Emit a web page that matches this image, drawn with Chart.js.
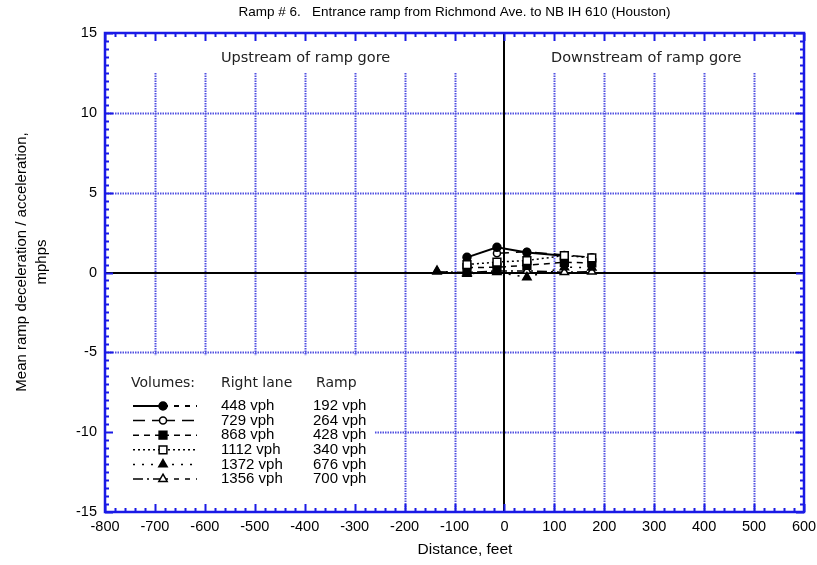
<!DOCTYPE html>
<html>
<head>
<meta charset="utf-8">
<script src="https://cdn.jsdelivr.net/npm/chart.js@4.4.0/dist/chart.umd.min.js"></script>
<style>
  html, body { margin: 0; padding: 0; background: #fff; }
  #wrap { width: 817px; height: 565px; position: relative; }
</style>
</head>
<body>
<div id="wrap"><canvas id="c" width="817" height="565"></canvas></div>
<script>
// ---- Data ----
const titleText = 'Ramp # 6.   Entrance ramp from Richmond Ave. to NB IH 610 (Houston)';
const xTitle = 'Distance, feet';
const yTitle = ['Mean ramp deceleration / acceleration,', 'mphps'];
const xTicks = [-800, -700, -600, -500, -400, -300, -200, -100, 0, 100, 200, 300, 400, 500, 600];
const yTicks = [-15, -10, -5, 0, 5, 10, 15];

const rightLane = ['448 vph', '729 vph', '868 vph', '1112 vph', '1372 vph', '1356 vph'];
const rampVol   = ['192 vph', '264 vph', '428 vph', '340 vph', '676 vph', '700 vph'];

const s1x = [-75, -15, 45, 120];
const s1y = [0.95, 1.58, 1.25, 1.05];
const s2x = [-15, 45, 120, 175];
const s2y = [1.2, 1.3, 1.1, 0.95];
const s3x = [-75, -15, 45, 120, 175];
const s3y = [0.3, 0.33, 0.45, 0.64, 0.6];
const s4x = [-75, -15, 45, 120, 175];
const s4y = [0.5, 0.65, 0.75, 1.06, 0.92];
const s5x = [-135, -75, -15, 45, 120, 175];
const s5y = [0.1, -0.08, 0.02, -0.3, 0.33, 0.3];
const s6x = [-135, -75, -15, 45, 120, 175];
const s6y = [0.05, 0.0, 0.1, 0.1, 0.02, 0.05];

// ---- Styles ----
const styles = [
  { dash: [], right: [5, 6], style: 'circle', fill: '#000', r: 4, order: 0 },
  { dash: [12, 7], right: [12, 7], style: 'circle', fill: '#fff', r: 3.5, order: 0 },
  { dash: [6, 5], right: [6, 5], style: 'rect', fill: '#000', r: 5.5, order: 0 },
  { dash: [2, 3], right: [2, 3], style: 'rect', fill: '#fff', r: 5.5, order: -1 },
  { dash: [2, 7], right: [2, 7], style: 'triangle', fill: '#000', r: 4.8, order: 0 },
  { dash: [10, 4, 2, 4], right: [5, 6], style: 'triangle', fill: '#fff', r: 4.8, order: 1 }
];
const seriesX = [s1x, s2x, s3x, s4x, s5x, s6x];
const seriesY = [s1y, s2y, s3y, s4y, s5y, s6y];

const datasets = seriesX.map((xs, i) => ({
  label: rightLane[i] + ' / ' + rampVol[i],
  data: xs.map((x, j) => ({ x: x, y: seriesY[i][j] })),
  showLine: true,
  order: styles[i].order,
  borderColor: '#000',
  borderWidth: i === 0 ? 2 : 1.5,
  borderDash: styles[i].dash,
  pointStyle: styles[i].style,
  pointRadius: styles[i].r,
  pointBackgroundColor: styles[i].fill,
  pointBorderColor: '#000',
  pointBorderWidth: 1.5,
  fill: false,
  tension: 0
}));

const BLUE = '#1a1ae6';
const GRID = 'rgb(80,80,225)';
const SANS = '"Liberation Sans", Arial, sans-serif';
const GEO = '"DejaVu Sans", sans-serif';

function drawMarker(ctx, style, x, y, r, fill) {
  ctx.save();
  ctx.setLineDash([]);
  ctx.fillStyle = fill;
  ctx.strokeStyle = '#000';
  ctx.lineWidth = 1.5;
  ctx.beginPath();
  if (style === 'circle') {
    ctx.arc(x, y, r, 0, Math.PI * 2);
  } else if (style === 'rect') {
    const s = r / Math.SQRT2;
    ctx.rect(x - s, y - s, 2 * s, 2 * s);
  } else {
    ctx.moveTo(x, y - r);
    ctx.lineTo(x + r * 0.866, y + r * 0.5);
    ctx.lineTo(x - r * 0.866, y + r * 0.5);
    ctx.closePath();
  }
  ctx.fill();
  ctx.stroke();
  ctx.restore();
}

const decor = {
  id: 'decor',
  beforeDatasetsDraw(chart) {
    const ctx = chart.ctx, ca = chart.chartArea;
    const X = chart.scales.x, Y = chart.scales.y;
    ctx.save();
    // dotted blue grid
    ctx.strokeStyle = GRID;
    ctx.lineWidth = 2;
    ctx.setLineDash([1.5, 1]);
    xTicks.forEach(v => {
      if (v === 0 || v === X.min || v === X.max) return;
      const px = Math.round(X.getPixelForValue(v)) + 0.5;
      ctx.beginPath(); ctx.moveTo(px, ca.top); ctx.lineTo(px, ca.bottom); ctx.stroke();
    });
    yTicks.forEach(v => {
      if (v === 0 || v === Y.min || v === Y.max) return;
      const py = Math.round(Y.getPixelForValue(v)) + 0.5;
      ctx.beginPath(); ctx.moveTo(ca.left, py); ctx.lineTo(ca.right, py); ctx.stroke();
    });
    ctx.setLineDash([]);
    // white label boxes
    ctx.fillStyle = '#fff';
    ctx.fillRect(ca.left, ca.top, ca.width, 40);
    const legTop = Y.getPixelForValue(-5) + 3;
    ctx.fillRect(ca.left, legTop, 270, ca.bottom - legTop);
    // zero axes
    ctx.strokeStyle = '#000';
    ctx.lineWidth = 2;
    const x0 = Math.round(X.getPixelForValue(0));
    const y0 = Math.round(Y.getPixelForValue(0));
    ctx.beginPath(); ctx.moveTo(x0, ca.top); ctx.lineTo(x0, ca.bottom); ctx.stroke();
    ctx.beginPath(); ctx.moveTo(ca.left, y0); ctx.lineTo(ca.right, y0); ctx.stroke();
    ctx.restore();
  },
  afterDatasetsDraw(chart) {
    const ctx = chart.ctx, ca = chart.chartArea;
    const X = chart.scales.x, Y = chart.scales.y;
    ctx.save();
    // frame
    ctx.strokeStyle = BLUE;
    ctx.lineWidth = 2.5;
    ctx.strokeRect(ca.left, ca.top, ca.width, ca.height);
    // inside ticks
    ctx.lineWidth = 2;
    for (let v = X.min; v <= X.max; v += 20) {
      const px = Math.round(X.getPixelForValue(v)) + 0.5;
      const len = (v % 100 === 0) ? 8 : 4;
      ctx.beginPath();
      ctx.moveTo(px, ca.bottom); ctx.lineTo(px, ca.bottom - len);
      ctx.moveTo(px, ca.top); ctx.lineTo(px, ca.top + len);
      ctx.stroke();
    }
    for (let v = Y.min; v <= Y.max + 1e-9; v += 0.5) {
      const py = Math.round(Y.getPixelForValue(v)) + 0.5;
      const len = (Math.abs(v % 5) < 1e-9) ? 8 : 4;
      ctx.beginPath();
      ctx.moveTo(ca.left, py); ctx.lineTo(ca.left + len, py);
      ctx.moveTo(ca.right, py); ctx.lineTo(ca.right - len, py);
      ctx.stroke();
    }
    // title
    ctx.fillStyle = '#000';
    ctx.textBaseline = 'middle';
    ctx.textAlign = 'center';
    ctx.font = '13.5px ' + SANS;
    ctx.fillText(titleText, (ca.left + ca.right) / 2, 12);
    // axis titles
    ctx.font = '15.5px ' + SANS;
    ctx.fillText(xTitle, 465, 550);
    ctx.save();
    ctx.translate(22, 262);
    ctx.rotate(-Math.PI / 2);
    ctx.font = '15px ' + SANS;
    ctx.fillText(yTitle[0], 0, 0);
    ctx.fillText(yTitle[1], 0, 20);
    ctx.restore();
    // region labels
    ctx.textAlign = 'left';
    ctx.fillStyle = '#222';
    ctx.font = '14.5px ' + GEO;
    ctx.fillText('Upstream of ramp gore', 221, 58);
    ctx.fillText('Downstream of ramp gore', 551, 58);
    // legend
    ctx.font = '14px ' + GEO;
    ctx.fillText('Volumes:', 131, 383);
    ctx.fillText('Right lane', 221, 383);
    ctx.fillText('Ramp', 316, 383);
    ctx.fillStyle = '#000';
    ctx.font = '15px ' + SANS;
    for (let i = 0; i < rightLane.length; i++) {
      const ry = 406 + i * 14.6;
      ctx.save();
      ctx.strokeStyle = '#000';
      ctx.lineWidth = i === 0 ? 2 : 1.5;
      ctx.setLineDash(styles[i].dash);
      ctx.beginPath(); ctx.moveTo(133, ry); ctx.lineTo(163, ry); ctx.stroke();
      ctx.setLineDash(styles[i].right);
      ctx.beginPath(); ctx.moveTo(163, ry); ctx.lineTo(197, ry); ctx.stroke();
      ctx.restore();
      drawMarker(ctx, styles[i].style, 163, ry, styles[i].r, styles[i].fill);
      ctx.fillText(rightLane[i], 221, ry);
      ctx.fillText(rampVol[i], 313, ry);
    }
    ctx.restore();
  }
};

new Chart(document.getElementById('c'), {
  type: 'scatter',
  data: { datasets: datasets },
  options: {
    responsive: false,
    animation: false,
    devicePixelRatio: 1,
    layout: { padding: { top: 33, right: 13, left: 0, bottom: 0 } },
    plugins: { legend: { display: false }, title: { display: false }, tooltip: { enabled: false } },
    scales: {
      x: {
        type: 'linear', min: -800, max: 600,
        afterBuildTicks: s => { s.ticks = xTicks.map(v => ({ value: v })); },
        afterFit: s => { s.height = 53; s.paddingLeft = 0; s.paddingRight = 0; },
        grid: { display: false, drawTicks: false },
        border: { display: false },
        ticks: { color: '#000', font: { family: SANS, size: 14.5 }, padding: 6, maxRotation: 0, autoSkip: false }
      },
      y: {
        type: 'linear', min: -15, max: 15,
        afterBuildTicks: s => { s.ticks = yTicks.map(v => ({ value: v })); },
        afterFit: s => { s.width = 105; s.paddingTop = 0; s.paddingBottom = 0; },
        grid: { display: false, drawTicks: false },
        border: { display: false },
        ticks: { color: '#000', font: { family: SANS, size: 14.5 }, padding: 8, autoSkip: false }
      }
    }
  },
  plugins: [decor]
});
</script>
</body>
</html>
